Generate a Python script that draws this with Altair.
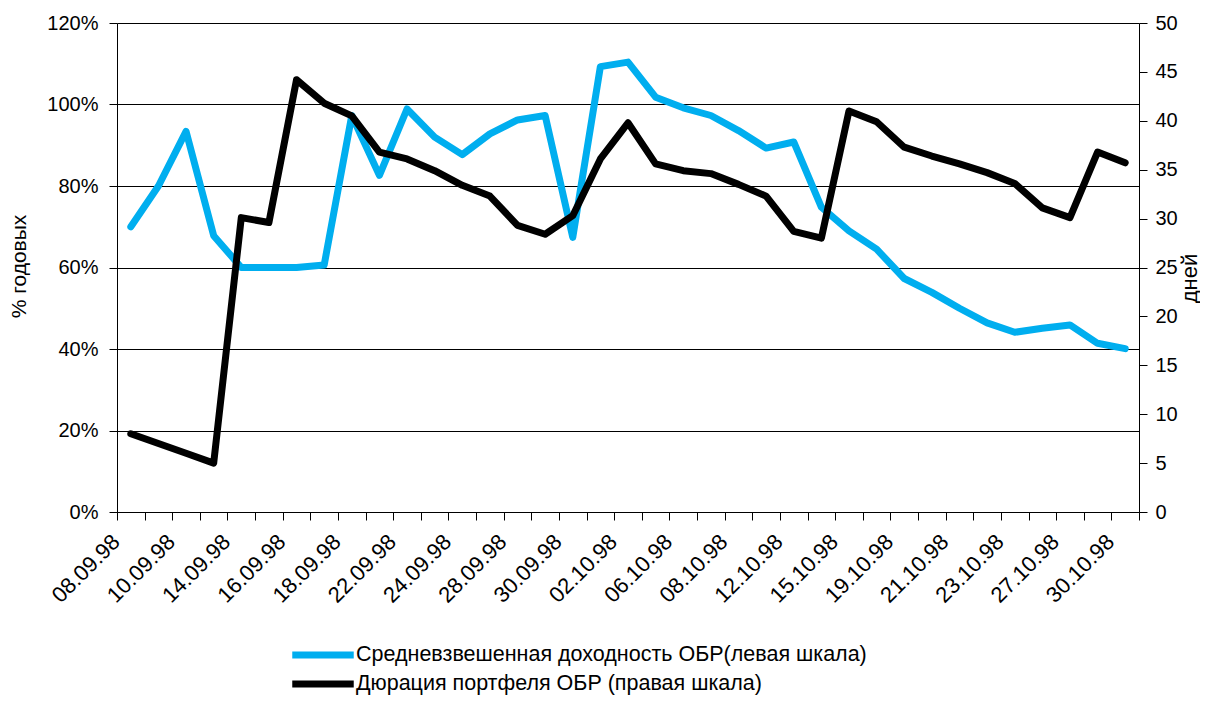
import altair as alt
import pandas as pd

dates = ['08.09.98', '09.09.98', '10.09.98', '11.09.98', '14.09.98', '15.09.98', '16.09.98',
         '17.09.98', '18.09.98', '21.09.98', '22.09.98', '23.09.98', '24.09.98', '25.09.98',
         '28.09.98', '29.09.98', '30.09.98', '01.10.98', '02.10.98', '05.10.98', '06.10.98',
         '07.10.98', '08.10.98', '09.10.98', '12.10.98', '14.10.98', '15.10.98', '16.10.98',
         '19.10.98', '20.10.98', '21.10.98', '22.10.98', '23.10.98', '26.10.98', '27.10.98',
         '29.10.98', '30.10.98']
labeled_dates = ['08.09.98', '10.09.98', '14.09.98', '16.09.98', '18.09.98', '22.09.98',
                 '24.09.98', '28.09.98', '30.09.98', '02.10.98', '06.10.98', '08.10.98',
                 '12.10.98', '15.10.98', '19.10.98', '21.10.98', '23.10.98', '27.10.98',
                 '30.10.98']
yield_pct = [70.0, 80.0, 93.4, 67.8, 60.0, 60.0, 60.0, 60.6, 97.3, 82.6, 98.9, 92.0, 87.7,
             92.8, 96.2, 97.3, 67.4, 109.3, 110.4, 101.8, 99.2, 97.3, 93.6, 89.3, 90.8, 74.8,
             69.0, 64.5, 57.3, 53.9, 50.0, 46.4, 44.1, 45.1, 45.9, 41.4, 40.1]
duration_days = [8.0, 7.0, 6.0, 5.0, 30.1, 29.6, 44.2, 41.8, 40.5, 36.8, 36.1, 34.9, 33.4,
                 32.3, 29.3, 28.4, 30.3, 36.1, 39.8, 35.6, 34.9, 34.6, 33.5, 32.3, 28.7, 28.0,
                 41.0, 39.9, 37.3, 36.4, 35.6, 34.7, 33.6, 31.1, 30.1, 36.8, 35.7]
left_ticks = [0, 20, 40, 60, 80, 100, 120]
right_ticks = [0, 5, 10, 15, 20, 25, 30, 35, 40, 45, 50]
series_names = ['Средневзвешенная доходность ОБР(левая шкала)',
                'Дюрация портфеля ОБР (правая шкала)']
series_colors = ['#00AEEF', '#000000']

FONT = 'Liberation Sans'

df = pd.DataFrame({'date': dates, 'yield': yield_pct, 'duration': duration_days})

label_expr = ("indexof([" + ",".join("'" + d + "'" for d in labeled_dates) +
              "], datum.value) >= 0 ? datum.label : ''")

x_enc = alt.X(
    'date:N', sort=dates, title=None,
    scale=alt.Scale(type='band', paddingInner=0, paddingOuter=0),
    axis=alt.Axis(tickBand='extent', labelAngle=-45, labelAlign='right', labelBaseline='middle',
                  labelExpr=label_expr, labelOverlap=False, labelPadding=18, labelOffset=-15,
                  tickSize=8, grid=False, labelFontSize=22, labelFont=FONT, labelColor='#000',
                  domainColor='#000', tickColor='#000'),
)

color_enc = alt.Color(
    'series:N',
    scale=alt.Scale(domain=series_names, range=series_colors),
    legend=alt.Legend(title=None, orient='none', legendX=192, legendY=618,
                      symbolType='M-3,0H3', symbolSize=420, symbolStrokeWidth=7,
                      labelFontSize=21.5, labelFont=FONT, labelColor='#000',
                      rowPadding=1, labelOffset=19, labelLimit=0),
)

blue = alt.Chart(df).transform_calculate(
    series="'" + series_names[0] + "'"
).mark_line(strokeWidth=7, strokeJoin='round', strokeCap='round').encode(
    x=x_enc,
    y=alt.Y('yield:Q', scale=alt.Scale(domain=[0, 120], nice=False),
            axis=alt.Axis(orient='left', values=left_ticks, labelExpr="datum.value + '%'",
                          title='% годовых', grid=True, gridColor='#000', gridWidth=1,
                          tickSize=8, labelPadding=11, labelFontSize=20, labelFont=FONT,
                          labelColor='#000', domainColor='#000', tickColor='#000',
                          titleFont=FONT, titleFontSize=21, titleFontWeight='normal',
                          titleColor='#000', titleAngle=270, titleBaseline='middle',
                          titleAlign='center', titleX=-98, titleY=243)),
    color=color_enc,
)

black = alt.Chart(df).transform_calculate(
    series="'" + series_names[1] + "'"
).mark_line(strokeWidth=7, strokeJoin='round', strokeCap='round').encode(
    x=x_enc,
    y=alt.Y('duration:Q', scale=alt.Scale(domain=[0, 50], nice=False),
            axis=alt.Axis(orient='right', values=right_ticks, title='дней', grid=False,
                          tickSize=8, labelPadding=8, labelFontSize=20, labelFont=FONT,
                          labelColor='#000', domainColor='#000', tickColor='#000',
                          titleFont=FONT, titleFontSize=22, titleFontWeight='normal',
                          titleColor='#000', titleAngle=270, titleBaseline='middle',
                          titleAlign='center', titleX=50, titleY=255)),
    color=color_enc,
)

chart = alt.layer(blue, black).resolve_scale(y='independent').properties(
    width=1022, height=489,
    padding={'left': 109, 'top': 15, 'right': 61, 'bottom': 183},
    autosize=alt.AutoSizeParams(type='none'),
).configure_view(stroke=None)

chart.save('out.html', embed_options={'renderer': 'svg', 'actions': False})
